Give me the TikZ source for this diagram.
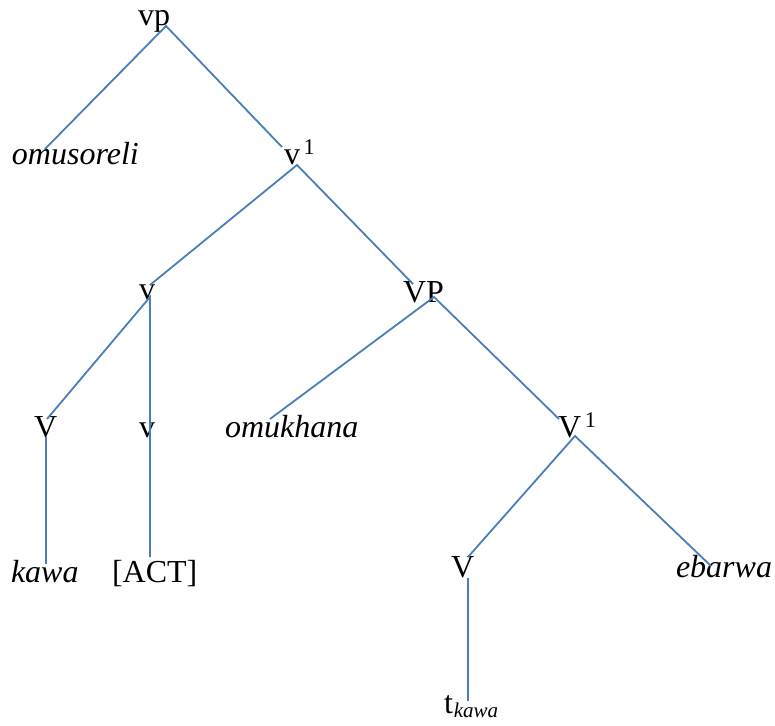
\documentclass[tikz,border=0pt]{standalone}
\usepackage{fontspec}
\setmainfont{Liberation Serif}
\begin{document}
\begin{tikzpicture}[x=1pt,y=-1pt,
  lbl/.style={anchor=base west,inner sep=0pt,outer sep=0pt,
    font=\fontsize{32}{38}\selectfont},
  word/.style={lbl,font=\fontsize{32}{38}\selectfont\itshape},
  branch/.style={draw={rgb,255:red,74;green,126;blue,187},line width=1.8pt}]
\useasboundingbox (0,0) rectangle (775,725);

% labels of the tree
\node[lbl]  (vp)    at (138,26)  {vp};
\node[word] (omus)  at (12,164)  {omusoreli};
\node[lbl]  (vbar)  at (284,164) {v\textsuperscript{\,1}};
\node[lbl]  (vsm)   at (139,299) {v};
\node[lbl]  (VP)    at (403,302) {VP};
\node[lbl]  (Vl)    at (34,437)  {V};
\node[lbl]  (vv)    at (139,437) {v};
\node[word] (omuk)  at (225,437) {omukhana};
\node[lbl]  (Vbar)  at (558,437) {V\textsuperscript{\,1}};
\node[word] (kawa)  at (11,582)  {kawa};
\node[lbl]  (act)   at (112,582) {[ACT]};
\node[lbl]  (Vr)    at (451,577) {V};
\node[word] (ebar)  at (676,577) {ebarwa};
\node[lbl]  (trace) at (444,713) {t\kern1pt\raisebox{-4pt}{\fontsize{21}{24}\selectfont\itshape kawa}};

% attachment points of the branches
\coordinate (vp-b)    at (166,26);
\coordinate (omus-t)  at (45,149);
\coordinate (vbar-t)  at (282,147);
\coordinate (vbar-b)  at (297,165);
\coordinate (vsm-t)   at (150,285);
\coordinate (vsm-b)   at (150,297);
\coordinate (VP-t)    at (413,284);
\coordinate (VP-b)    at (434,297);
\coordinate (Vl-t)    at (47,419);
\coordinate (Vl-b)    at (46,437);
\coordinate (act-t)   at (150,557);
\coordinate (omuk-t)  at (270,419);
\coordinate (Vbar-t)  at (559,419);
\coordinate (Vbar-b)  at (575,436);
\coordinate (kawa-t)  at (46,564);
\coordinate (Vr-t)    at (468,557);
\coordinate (Vr-b)    at (468,578);
\coordinate (ebar-t)  at (711,566);
\coordinate (trace-t) at (468,701);

% branches
\draw[branch] (omus-t) -- (vp-b) -- (vbar-t);
\draw[branch] (vsm-t) -- (vbar-b) -- (VP-t);
\draw[branch] (Vl-t) -- (vsm-b) -- (act-t);
\draw[branch] (Vl-b) -- (kawa-t);
\draw[branch] (omuk-t) -- (VP-b) -- (Vbar-t);
\draw[branch] (Vr-t) -- (Vbar-b) -- (ebar-t);
\draw[branch] (Vr-b) -- (trace-t);
\end{tikzpicture}
\end{document}
